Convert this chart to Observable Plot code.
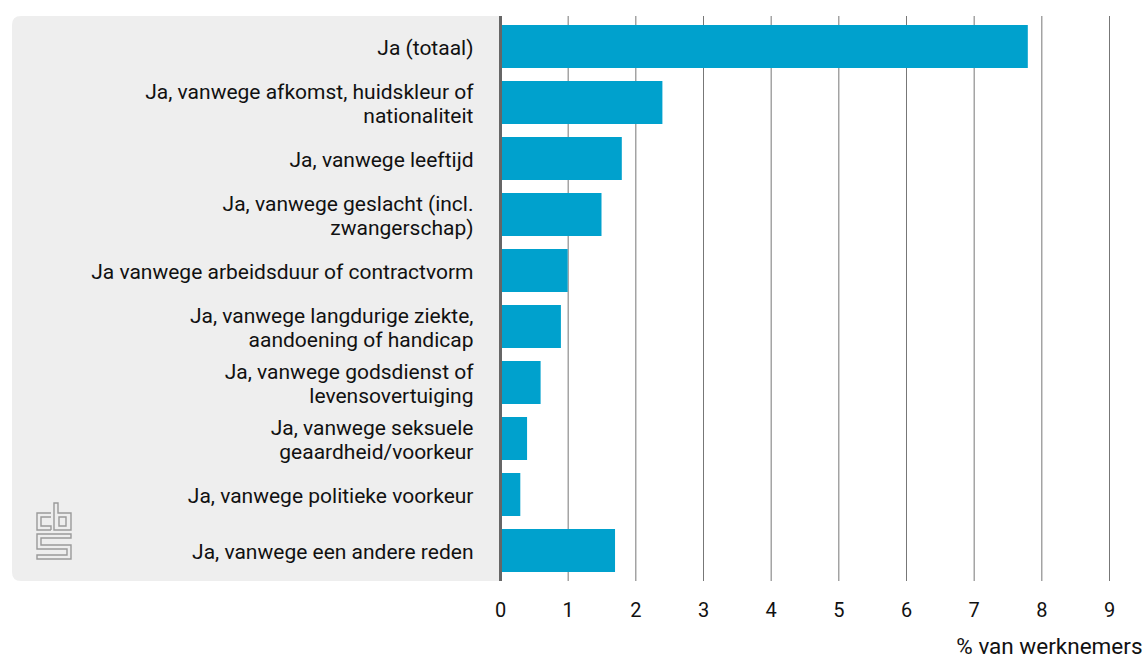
<!DOCTYPE html>
<html>
<head>
<meta charset="utf-8">
<script src="https://cdn.jsdelivr.net/npm/d3@7"></script>
<script src="https://cdn.jsdelivr.net/npm/@observablehq/plot@0.6"></script>
<style>
  html, body { margin: 0; padding: 0; background: #ffffff; }
  #chart { width: 1145px; height: 657px; position: relative; }
</style>
</head>
<body>
<div id="chart"></div>
<script>
const categories = [
  "Ja (totaal)",
  "Ja, vanwege afkomst, huidskleur of\nnationaliteit",
  "Ja, vanwege leeftijd",
  "Ja, vanwege geslacht (incl.\nzwangerschap)",
  "Ja vanwege arbeidsduur of contractvorm",
  "Ja, vanwege langdurige ziekte,\naandoening of handicap",
  "Ja, vanwege godsdienst of\nlevensovertuiging",
  "Ja, vanwege seksuele\ngeaardheid/voorkeur",
  "Ja, vanwege politieke voorkeur",
  "Ja, vanwege een andere reden"
];
const values = [7.8, 2.4, 1.8, 1.5, 1.0, 0.9, 0.6, 0.4, 0.3, 1.7];
const xTicks = [0, 1, 2, 3, 4, 5, 6, 7, 8, 9];
const axisLabel = "% van werknemers";

const data = categories.map((c, i) => ({cat: c, value: values[i]}));

const plot = Plot.plot({
  width: 1145,
  height: 657,
  marginLeft: 500,
  marginRight: 36,
  marginTop: 16,
  marginBottom: 76,
  style: {fontFamily: "Roboto, sans-serif", fontSize: "20px", color: "#111111", background: "transparent"},
  x: {domain: [0, 9], ticks: xTicks},
  y: {domain: categories, paddingInner: 0.23, paddingOuter: 0.115},
  marks: [
    Plot.gridX(xTicks.slice(1), {stroke: "#777", strokeOpacity: 1, strokeWidth: 1}),
    Plot.barX(data, {x: "value", y: "cat", fill: "#00a1cd", insetLeft: 2}),
    Plot.ruleX([0], {stroke: "#666", strokeWidth: 3}),
    Plot.axisX({ticks: xTicks, tickSize: 0, tickPadding: 21, fontSize: 20, label: null}),
    Plot.axisX({ticks: [], tickSize: 0, fontSize: 22.5, label: axisLabel, labelAnchor: "right", labelArrow: "none", labelOffset: 72}),
    Plot.axisY({tickSize: 0, tickPadding: 27, fontSize: 21, lineHeight: 1.14, label: null})
  ]
});

const root = document.getElementById("chart");
root.appendChild(plot);

// background panel behind labels, positioned from the scales
const svg = d3.select(plot);
const xs = plot.scale("x"), ys = plot.scale("y");
const x0 = xs.apply(0);
const yTop = ys.range[0], yBot = ys.range[1];
const panel = svg.insert("g", ":first-child");
panel.append("path")
  .attr("fill", "#eeeeee")
  .attr("d", `M${x0},${yTop} H${12 + 9} Q12,${yTop} 12,${yTop + 9} V${yBot - 9} Q12,${yBot} ${12 + 9},${yBot} H${x0} Z`);

// CBS logo (decoration)
const logo = panel.append("g")
  .attr("transform", `translate(36,${yBot - 78})`)
  .attr("fill", "none")
  .attr("stroke", "#9a9a9a")
  .attr("stroke-width", 1.4);
logo.append("path").attr("d", "M15,10 H1 V27 H15 M15,14 H5 V23 H15 V27");
logo.append("path").attr("d", "M18,0 H22 V10 H35 V27 H18 Z M23,14 H30 V23 H23 Z");
logo.append("path").attr("d", "M35,31 H1 V46 H31 V52 H1 V56 H35 V42 H5 V35 H35 Z");
</script>
</body>
</html>
